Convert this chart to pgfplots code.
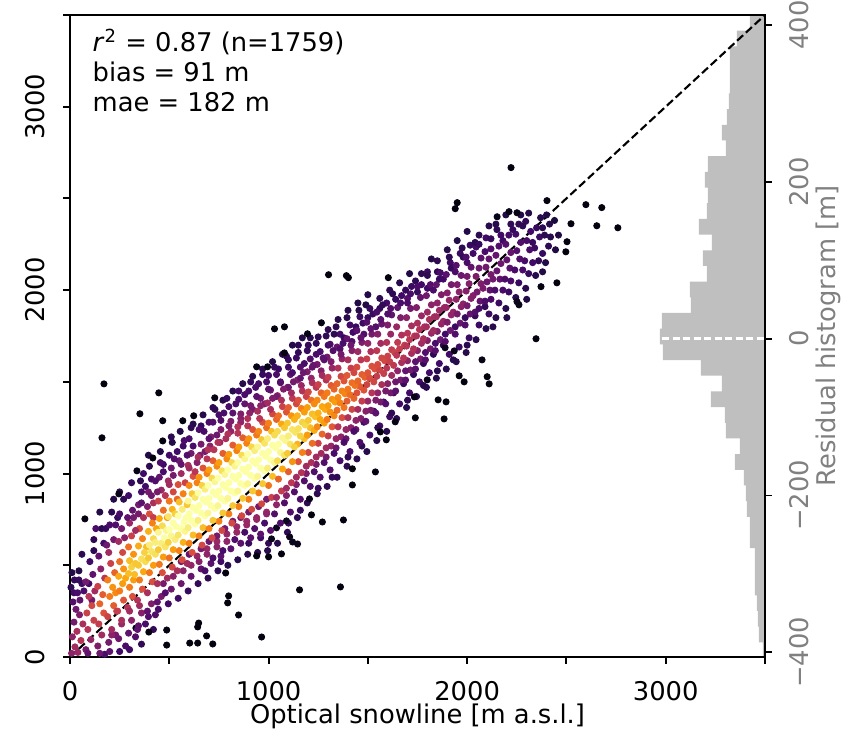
\documentclass[border=0pt]{standalone}
\usepackage{fontspec}
\setmainfont{DejaVu Sans}
\usepackage{pgfplots}
\usepackage{pgfplotstable}
\pgfplotsset{compat=1.18}

\definecolor{histgray}{RGB}{191,191,191}
\pgfplotsset{colormap={inferno}{rgb255=(0,0,4) rgb255=(22,11,57) rgb255=(66,10,104)
  rgb255=(106,23,110) rgb255=(147,38,103) rgb255=(188,55,84) rgb255=(221,81,58)
  rgb255=(243,120,25) rgb255=(252,165,10) rgb255=(246,215,70) rgb255=(252,255,164)}}

% optical vs SAR snowline, c = point density (0..1)
\pgfplotstableread{
x y c
8 20 .35
25 55 .4
12 110 .35
40 25 .38
35 140 .42
55 90 .45
20 190 .3
48 230 .32
15 300 .22
38 350 .2
60 400 .18
22 420 .15
10 460 .12
50 310 .25
65 180 .42
30 260 .28
5 380 .14
45 470 .12
70 360 .2
95 400 .18
45 420 .16
110 310 .3
20 350 .18
80 40 .3
105 95 .38
90 150 .45
120 200 .5
85 240 .5
110 280 .52
95 330 .45
125 360 .4
80 410 .3
115 450 .25
100 520 .18
120 580 .14
90 20 .25
140 60 .32
160 120 .4
145 180 .48
170 240 .55
150 290 .6
165 340 .58
140 385 .5
175 430 .45
155 480 .35
145 550 .25
170 620 .18
160 700 .13
175 15 .2
195 80 .3
210 150 .4
190 220 .5
220 280 .58
200 330 .65
215 380 .7
190 420 .66
225 460 .6
205 510 .5
195 570 .4
220 640 .3
200 720 .2
210 790 .14
230 350 .68
235 250 .52
245 100 .28
260 180 .38
240 250 .48
270 310 .56
250 360 .65
265 400 .72
245 440 .75
270 480 .7
250 520 .62
265 570 .52
245 630 .4
260 700 .3
250 780 .2
270 860 .14
280 430 .74
295 130 .25
310 200 .35
290 270 .45
315 330 .55
300 380 .65
320 420 .72
295 455 .78
310 490 .82
300 525 .78
320 560 .7
295 600 .62
310 660 .5
300 730 .38
315 800 .26
295 880 .18
330 510 .8
325 450 .78
345 170 .24
360 240 .34
340 310 .44
365 370 .55
350 420 .65
370 465 .74
345 500 .8
360 535 .85
375 570 .82
345 605 .75
365 645 .66
350 700 .55
370 760 .42
345 830 .3
360 900 .2
355 960 .14
380 520 .84
385 600 .78
395 220 .22
410 290 .32
390 350 .42
415 410 .54
400 460 .64
420 500 .72
395 540 .8
410 575 .86
400 610 .88
420 645 .84
395 685 .76
415 730 .66
400 780 .54
420 840 .42
395 900 .3
410 970 .2
400 1040 .14
430 560 .85
430 625 .88
435 700 .74
445 260 .2
460 330 .3
440 400 .42
465 460 .54
450 505 .64
470 545 .72
445 585 .8
460 620 .88
475 650 .92
445 680 .9
465 715 .84
450 755 .74
470 800 .62
445 850 .5
460 910 .38
450 980 .26
470 1050 .18
455 1120 .12
480 600 .86
485 690 .9
490 760 .72
495 290 .18
510 370 .28
490 430 .4
515 490 .52
500 540 .62
520 585 .72
495 625 .82
510 660 .9
500 695 .95
520 730 .92
495 765 .86
515 805 .76
500 850 .64
520 900 .52
495 960 .4
510 1030 .28
500 1100 .18
515 1170 .12
530 640 .88
535 710 .95
530 780 .82
540 860 .6
545 320 .18
560 400 .28
540 470 .42
565 530 .55
550 580 .66
570 625 .76
545 665 .86
560 700 .93
575 735 .98
545 770 .95
565 805 .88
550 845 .78
570 890 .66
545 940 .54
560 1000 .4
550 1070 .28
570 1150 .18
555 1230 .12
580 685 .9
585 760 .96
590 830 .8
595 360 .16
610 440 .26
590 510 .4
615 570 .54
600 620 .66
620 665 .78
595 705 .88
610 745 .94
600 780 .99
620 815 .96
595 850 .9
615 890 .8
600 935 .68
620 985 .55
595 1045 .42
610 1110 .3
600 1190 .2
620 1270 .13
630 725 .92
635 800 .98
630 870 .86
640 950 .66
645 400 .15
660 480 .25
640 550 .38
665 610 .52
650 660 .66
670 705 .78
645 745 .88
660 785 .95
650 825 1
670 860 .97
645 895 .92
665 935 .82
650 980 .7
670 1030 .56
645 1090 .42
660 1160 .3
650 1240 .2
670 1320 .13
680 770 .92
685 845 1
680 915 .88
690 1000 .66
695 430 .14
710 510 .24
690 590 .38
715 650 .52
700 700 .66
720 745 .8
695 785 .9
710 825 .96
700 865 1
720 900 .98
695 935 .93
715 975 .84
700 1020 .72
720 1070 .58
695 1130 .44
710 1200 .32
700 1280 .2
720 1360 .14
730 810 .94
735 885 1
730 955 .9
740 1040 .68
745 470 .14
760 550 .24
740 630 .38
765 690 .52
750 740 .66
770 785 .8
745 825 .9
760 865 .97
750 905 1
770 940 .98
745 975 .94
765 1015 .85
750 1060 .72
770 1110 .58
745 1170 .44
760 1240 .32
750 1320 .2
770 1400 .13
780 850 .94
785 925 1
780 995 .9
790 1080 .68
795 500 .13
810 590 .24
790 670 .38
815 730 .52
800 780 .66
820 825 .8
795 865 .9
810 905 .97
800 950 1
820 985 .98
795 1020 .93
815 1060 .84
800 1105 .72
820 1155 .58
795 1215 .44
810 1285 .32
800 1365 .2
820 1450 .13
830 895 .95
835 970 1
830 1040 .9
840 1125 .66
845 530 .13
860 620 .24
840 710 .38
865 770 .52
850 820 .66
870 865 .8
845 905 .9
860 945 .96
850 990 1
870 1025 .98
845 1060 .93
865 1100 .84
850 1145 .72
870 1195 .58
845 1255 .44
860 1325 .32
850 1405 .2
870 1490 .13
880 935 .94
885 1010 1
880 1080 .9
890 1165 .66
895 560 .13
910 650 .24
890 740 .38
915 805 .52
900 860 .66
920 905 .8
895 945 .9
910 990 .96
900 1035 1
920 1070 .97
895 1105 .92
915 1145 .83
900 1190 .7
920 1240 .56
895 1300 .43
910 1370 .3
900 1450 .2
920 1530 .13
930 975 .94
935 1055 .98
930 1125 .88
940 1210 .64
945 570 .13
960 670 .24
940 760 .38
965 835 .52
950 895 .66
970 945 .8
945 985 .9
960 1030 .96
950 1075 .99
970 1110 .96
945 1145 .9
965 1185 .8
950 1230 .68
970 1280 .54
945 1340 .42
960 1410 .3
950 1490 .2
970 1570 .13
980 1015 .93
985 1095 .97
980 1165 .86
990 1250 .62
995 580 .13
1010 690 .24
990 790 .38
1015 870 .5
1000 935 .64
1020 985 .78
995 1030 .88
1010 1075 .94
1000 1120 .97
1020 1155 .94
995 1190 .88
1015 1230 .78
1000 1275 .66
1020 1325 .52
995 1385 .4
1010 1455 .28
1000 1535 .18
1020 1610 .12
1030 1060 .9
1035 1140 .95
1030 1210 .84
1040 1295 .6
1045 620 .13
1060 730 .22
1040 830 .36
1065 905 .48
1050 970 .6
1070 1025 .74
1045 1070 .84
1060 1115 .9
1050 1160 .93
1070 1195 .9
1045 1230 .84
1065 1270 .74
1050 1315 .62
1070 1365 .5
1045 1425 .38
1060 1495 .27
1050 1570 .17
1070 1650 .12
1080 1100 .86
1085 1180 .9
1080 1250 .8
1090 1335 .56
1095 680 .14
1110 790 .22
1090 880 .34
1115 950 .46
1100 1010 .58
1120 1065 .7
1095 1110 .8
1110 1160 .86
1100 1205 .88
1120 1240 .86
1095 1275 .8
1115 1315 .7
1100 1360 .58
1120 1410 .46
1095 1470 .35
1110 1540 .25
1100 1620 .16
1120 1700 .12
1130 1145 .82
1135 1225 .86
1130 1295 .76
1140 1380 .52
1145 760 .14
1160 860 .22
1140 940 .33
1165 1005 .44
1150 1065 .55
1170 1115 .66
1145 1160 .76
1160 1205 .82
1150 1245 .85
1170 1280 .82
1145 1315 .76
1165 1355 .66
1150 1400 .55
1170 1450 .44
1145 1510 .33
1160 1580 .23
1150 1660 .15
1170 1740 .12
1180 1190 .78
1185 1265 .83
1180 1335 .72
1190 1420 .5
1195 840 .14
1210 930 .22
1190 1000 .32
1215 1060 .42
1200 1115 .52
1220 1165 .62
1195 1210 .72
1210 1250 .78
1200 1290 .8
1220 1325 .78
1195 1360 .72
1215 1400 .62
1200 1445 .52
1220 1495 .42
1195 1555 .32
1210 1625 .22
1200 1700 .15
1230 1235 .75
1235 1310 .79
1230 1380 .68
1240 1470 .46
1245 890 .14
1260 980 .22
1240 1050 .31
1265 1110 .4
1250 1165 .5
1270 1215 .6
1245 1255 .68
1260 1295 .74
1250 1330 .76
1270 1365 .74
1245 1400 .68
1265 1440 .6
1250 1485 .5
1270 1535 .4
1245 1595 .3
1260 1665 .2
1250 1745 .14
1280 1275 .72
1285 1350 .75
1280 1420 .64
1290 1510 .44
1295 930 .14
1310 1020 .22
1290 1090 .3
1315 1150 .38
1300 1205 .48
1320 1255 .57
1295 1295 .65
1310 1335 .7
1300 1370 .72
1320 1405 .7
1295 1440 .65
1315 1480 .57
1300 1525 .48
1320 1575 .38
1295 1635 .29
1310 1705 .2
1300 1785 .14
1330 1315 .68
1335 1390 .72
1330 1460 .6
1345 980 .14
1360 1070 .2
1340 1140 .28
1365 1200 .36
1350 1255 .45
1370 1305 .54
1345 1345 .62
1360 1385 .66
1350 1415 .68
1370 1450 .66
1345 1490 .6
1365 1530 .52
1350 1575 .44
1370 1625 .36
1345 1690 .27
1360 1760 .19
1350 1840 .13
1380 1360 .64
1385 1435 .67
1380 1505 .56
1395 1040 .14
1410 1120 .2
1390 1190 .27
1415 1250 .35
1400 1305 .43
1420 1350 .51
1395 1395 .58
1410 1430 .62
1400 1460 .64
1420 1495 .62
1395 1535 .57
1415 1575 .49
1400 1620 .42
1420 1670 .34
1395 1735 .26
1410 1810 .18
1400 1890 .13
1430 1410 .6
1435 1480 .63
1430 1550 .52
1445 1080 .14
1460 1170 .2
1440 1240 .26
1465 1300 .33
1450 1350 .41
1470 1395 .48
1445 1440 .55
1460 1475 .58
1450 1505 .6
1470 1540 .58
1445 1580 .53
1465 1620 .46
1450 1665 .39
1470 1715 .32
1445 1780 .24
1460 1855 .17
1450 1930 .12
1480 1455 .56
1485 1525 .59
1495 1120 .13
1510 1210 .19
1490 1285 .25
1515 1345 .31
1500 1395 .38
1520 1440 .45
1495 1485 .51
1510 1520 .54
1500 1550 .56
1520 1585 .54
1495 1625 .49
1515 1665 .43
1500 1710 .36
1520 1760 .3
1495 1825 .23
1510 1900 .16
1500 1975 .12
1530 1500 .52
1535 1570 .55
1545 1180 .13
1560 1260 .18
1540 1330 .24
1565 1390 .3
1550 1440 .36
1570 1485 .42
1545 1530 .48
1560 1565 .51
1550 1595 .53
1570 1630 .51
1545 1670 .46
1565 1710 .4
1550 1760 .34
1570 1815 .27
1545 1880 .2
1560 1955 .14
1580 1545 .49
1585 1615 .52
1595 1230 .13
1610 1310 .18
1590 1380 .23
1615 1440 .29
1600 1490 .35
1620 1535 .4
1595 1575 .46
1610 1610 .49
1600 1640 .5
1620 1675 .48
1595 1715 .44
1615 1760 .38
1600 1810 .32
1620 1865 .26
1595 1930 .19
1610 2000 .14
1630 1590 .47
1635 1660 .5
1645 1300 .13
1660 1380 .18
1640 1450 .24
1665 1510 .3
1650 1560 .36
1670 1605 .42
1645 1645 .46
1660 1680 .48
1650 1715 .47
1670 1755 .43
1645 1800 .38
1665 1850 .32
1650 1905 .25
1670 1970 .18
1660 2040 .13
1680 1630 .45
1685 1700 .48
1695 1360 .13
1710 1440 .18
1690 1510 .24
1715 1565 .3
1700 1615 .36
1720 1655 .41
1695 1695 .45
1710 1730 .46
1700 1765 .45
1720 1805 .41
1695 1850 .35
1715 1900 .29
1700 1955 .23
1720 2020 .17
1710 2090 .12
1730 1680 .44
1735 1750 .46
1745 1420 .13
1760 1500 .18
1740 1570 .24
1765 1625 .3
1750 1670 .35
1770 1710 .4
1745 1750 .43
1760 1785 .44
1750 1820 .42
1770 1860 .38
1745 1905 .32
1765 1960 .26
1750 2020 .2
1770 2090 .14
1780 1735 .42
1785 1800 .43
1795 1470 .13
1810 1550 .18
1790 1620 .23
1815 1680 .29
1800 1725 .34
1820 1765 .38
1795 1800 .41
1810 1840 .42
1800 1880 .39
1820 1920 .35
1795 1970 .29
1815 2030 .23
1800 2100 .17
1820 2170 .12
1830 1780 .4
1835 1855 .41
1845 1520 .13
1860 1600 .18
1840 1670 .23
1865 1730 .28
1850 1775 .33
1870 1815 .37
1845 1855 .4
1860 1890 .39
1850 1930 .36
1870 1975 .32
1845 2030 .26
1865 2095 .2
1850 2160 .14
1880 1830 .38
1885 1905 .38
1895 1570 .13
1910 1650 .18
1890 1720 .23
1915 1780 .28
1900 1825 .32
1920 1865 .36
1895 1905 .38
1910 1945 .37
1900 1985 .34
1920 2030 .3
1895 2085 .24
1915 2150 .18
1900 2220 .13
1930 1880 .37
1945 1610 .13
1960 1690 .17
1940 1760 .22
1965 1820 .27
1950 1870 .31
1970 1910 .34
1945 1950 .36
1960 1990 .35
1950 2030 .32
1970 2080 .28
1945 2135 .23
1965 2200 .17
1950 2270 .12
1980 1925 .35
1995 1660 .13
2010 1740 .17
1990 1810 .22
2015 1870 .26
2000 1915 .3
2020 1955 .33
1995 1995 .34
2010 2035 .33
2000 2075 .3
2020 2125 .26
1995 2180 .21
2015 2245 .16
2000 2320 .12
2030 1970 .33
2045 1730 .13
2060 1810 .17
2040 1880 .22
2065 1940 .26
2050 1990 .3
2070 2035 .32
2045 2075 .31
2060 2120 .28
2070 2175 .24
2045 2235 .19
2060 2300 .14
2080 2010 .31
2095 1790 .13
2110 1870 .17
2090 1940 .21
2115 2000 .25
2100 2045 .28
2120 2085 .3
2095 2125 .29
2110 2170 .26
2120 2225 .22
2095 2285 .18
2110 2350 .13
2130 2060 .29
2145 1850 .13
2160 1930 .17
2140 2000 .21
2165 2060 .25
2150 2105 .27
2170 2145 .28
2145 2190 .26
2160 2240 .22
2170 2300 .18
2145 2360 .13
2195 1900 .13
2210 1990 .17
2190 2060 .21
2215 2120 .24
2200 2165 .26
2220 2205 .26
2195 2250 .23
2210 2300 .19
2220 2360 .15
2195 2410 .12
2245 1960 .13
2260 2040 .16
2240 2110 .2
2265 2170 .22
2250 2215 .23
2270 2260 .22
2245 2305 .19
2260 2360 .15
2270 2410 .12
2295 2010 .13
2310 2090 .16
2290 2160 .19
2315 2220 .2
2300 2270 .2
2320 2320 .18
2295 2375 .15
2310 2420 .12
2345 2080 .13
2360 2160 .15
2340 2230 .17
2365 2290 .17
2350 2340 .16
2370 2395 .13
2395 2150 .12
2410 2240 .14
2390 2300 .14
2415 2360 .13
2400 2410 .12
2445 2220 .11
2460 2300 .11
2440 2380 .1
320 760 .3
360 840 .24
410 880 .28
380 930 .18
430 960 .22
470 1010 .2
520 990 .3
560 1050 .26
540 1120 .18
590 1100 .22
620 1150 .2
640 1060 .34
680 1120 .3
700 1190 .24
660 1260 .16
740 1210 .28
760 1290 .22
730 1350 .14
800 1260 .32
820 1330 .24
790 1410 .16
860 1300 .34
880 1380 .26
850 1450 .18
920 1350 .3
940 1420 .24
910 1500 .16
980 1380 .32
1000 1460 .24
970 1540 .16
1040 1420 .3
1060 1500 .22
1030 1580 .16
1100 1470 .28
1120 1550 .2
1090 1640 .14
1160 1520 .26
1180 1600 .2
1150 1700 .14
1220 1580 .26
1240 1650 .2
1210 1740 .14
1280 1620 .24
1300 1700 .18
1330 1760 .14
1360 1680 .22
1380 1740 .16
1420 1720 .22
1440 1800 .16
1480 1760 .22
1500 1850 .16
1540 1800 .22
1560 1900 .15
1600 1870 .22
1640 1950 .16
1700 1930 .2
1750 1990 .16
1800 2010 .18
1860 2060 .16
1920 2120 .16
1980 2180 .15
2040 2260 .14
560 520 .3
600 560 .26
660 590 .3
700 630 .28
740 660 .3
780 700 .3
820 740 .3
860 760 .32
900 790 .3
950 820 .3
990 860 .3
720 540 .2
770 580 .2
830 640 .22
880 680 .2
930 700 .22
980 730 .2
1030 780 .22
1080 840 .22
1130 900 .22
1180 960 .22
1230 1010 .22
1280 1060 .22
1330 1110 .2
1380 1170 .2
1430 1230 .2
1480 1280 .18
1530 1340 .18
1580 1390 .18
1630 1440 .17
1680 1490 .16
1730 1540 .15
1780 1600 .15
1830 1650 .14
1880 1700 .14
60 560 .14
120 640 .14
180 700 .16
240 760 .16
150 790 .12
220 860 .12
280 60 .2
330 110 .22
380 180 .2
430 230 .22
250 30 .18
360 70 .15
420 150 .15
130 700 .2
185 610 .28
230 720 .22
275 650 .35
330 690 .4
290 760 .25
345 780 .3
390 820 .32
250 900 .14
310 950 .16
370 1000 .18
420 760 .48
440 900 .3
395 1100 .12
480 880 .45
500 940 .4
455 1060 .2
525 1080 .22
510 1200 .14
580 950 .5
600 1030 .4
575 1180 .2
630 1010 .45
655 1100 .32
610 1250 .14
690 1080 .45
705 1150 .35
675 1230 .2
725 1130 .45
755 1170 .38
720 1280 .22
785 1190 .42
810 1230 .36
775 1330 .2
845 1220 .45
860 1280 .36
835 1380 .2
895 1260 .45
905 1330 .35
880 1430 .2
955 1300 .45
960 1370 .35
935 1470 .2
1010 1350 .42
1020 1410 .32
990 1500 .2
1065 1400 .42
1075 1460 .32
1040 1540 .2
1115 1440 .4
1125 1500 .3
1100 1580 .18
1165 1480 .38
1175 1550 .28
1140 1630 .17
1215 1520 .36
1225 1590 .27
1195 1670 .16
1265 1560 .34
1275 1630 .24
1240 1710 .15
1315 1610 .32
1325 1670 .22
1290 1750 .15
1365 1650 .3
1375 1710 .2
1340 1800 .14
1415 1700 .28
1425 1770 .18
1395 1850 .13
1465 1740 .26
1475 1820 .17
1455 1890 .13
1515 1790 .25
1525 1870 .16
1490 1920 .12
1565 1840 .24
1575 1920 .15
1615 1900 .22
1625 1980 .14
1665 1930 .2
1690 2000 .15
1715 1980 .2
1740 2050 .14
1770 2030 .18
1800 2080 .14
1830 2000 .2
1850 2100 .15
1880 2060 .18
1910 2180 .14
1940 2100 .2
1975 2230 .14
2000 2150 .2
2030 2200 .18
2060 2250 .16
2090 2210 .2
2120 2280 .16
2150 2330 .14
2180 2270 .18
2230 2330 .16
2280 2350 .14
2330 2260 .16
2380 2340 .14
2420 2290 .13
2280 2110 .2
2330 2150 .18
2380 2200 .16
2180 2000 .2
2120 1950 .2
2060 1900 .2
2220 2050 .2
470 400 .3
520 440 .35
570 470 .35
610 500 .36
650 520 .34
690 560 .36
740 600 .36
790 630 .36
840 680 .38
890 720 .38
940 750 .38
990 780 .36
1040 870 .4
1090 920 .4
1140 980 .4
1190 1040 .4
1240 1090 .4
1290 1140 .4
1340 1190 .38
1390 1240 .38
1440 1290 .36
1490 1340 .34
1540 1400 .32
1590 1450 .3
1640 1500 .28
1690 1560 .26
1740 1610 .24
1790 1660 .22
1840 1710 .2
1890 1760 .18
1940 1800 .17
1990 1850 .16
2040 1860 .15
2090 1910 .15
680 470 .2
760 520 .18
900 620 .16
960 650 .18
1000 620 .15
1100 730 .16
1160 800 .16
1250 920 .16
1320 980 .15
1400 1090 .15
1470 1150 .14
1550 1250 .14
1620 1330 .14
1700 1400 .14
1780 1480 .13
1850 1560 .13
1930 1620 .13
2000 1700 .13
2130 1800 .13
2200 1850 .13
2300 1950 .12
2380 2100 .12
200 30 .25
230 120 .3
150 20 .28
300 40 .18
340 150 .25
390 250 .25
440 300 .25
480 350 .22
300 250 .4
350 280 .4
260 200 .42
210 120 .35
2221 2668 .02
1950 2477 .02
1940 2444 .02
2402 2488 .02
2598 2466 .02
2678 2450 .02
2653 2351 .02
2759 2340 .02
2523 2362 .02
2211 2428 .03
2251 2422 .03
2151 2400 .03
2503 2264 .02
2497 2209 .02
2452 2040 .02
2372 2019 .02
2251 1937 .04
2261 1920 .04
2347 1735 .02
2075 1620 .03
2101 1528 .02
2111 1489 .02
1960 1533 .02
1985 1500 .02
1889 1686 .04
1935 1669 .04
1799 1511 .03
1302 2084 .02
1392 2079 .02
1402 2068 .02
1603 2068 .02
1266 1822 .03
1196 1762 .03
1734 1418 .03
171 1489 .02
447 1440 .02
352 1326 .02
467 1288 .02
568 1288 .02
161 1195 .02
467 1178 .02
1030 1789 .02
1080 1800 .02
1080 1658 .03
940 1582 .03
995 1582 .03
729 1413 .03
623 1315 .03
417 1085 .02
337 1015 .03
246 889 .03
1422 1026 .02
1422 938 .02
1854 1402 .02
1894 1391 .02
1884 1298 .02
1739 1304 .02
1638 1282 .03
1593 1184 .02
1563 1227 .02
1538 1009 .02
1206 862 .04
1216 775 .02
1271 736 .02
1377 747 .02
1090 742 .05
1040 704 .05
1106 655 .04
1121 627 .04
1146 616 .04
1015 644 .04
1065 562 .02
1000 546 .02
940 551 .02
1156 366 .02
1362 382 .02
965 109 .02
75 753 .02
784 458 .02
799 333 .02
794 295 .02
849 229 .02
648 185 .02
643 164 .02
487 147 .02
487 65 .02
688 115 .02
719 71 .02
603 76 .02
643 76 .02
397 136 .02
332 158 .02
}\scatterdata

% residual histogram: bar length (px-like units) and bin centre [m]
\pgfplotstableread{
w y
15 402.7
28 382.7
35 362.7
35 342.7
35 322.7
36 302.7
38 282.7
43 262.7
39 242.7
57 222.7
60 202.7
57 182.7
58 162.7
66 142.7
53 122.7
62 102.7
58 82.7
75 62.7
74 42.7
103 22.7
105 2.7
102 -17.3
64 -37.3
43 -57.3
54 -77.3
40 -97.3
39 -117.3
25 -137.3
30 -157.3
21 -177.3
19 -197.3
18 -217.3
15 -237.3
15 -257.3
10 -277.3
10 -297.3
10 -317.3
8 -337.3
7 -357.3
6 -377.3
2 -397.3
}\histdata

\begin{document}
\fontsize{11pt}{13.2pt}\selectfont
\begin{tikzpicture}
\useasboundingbox (-1.05cm,-1.11cm) rectangle (11.61cm,9.855cm);

\begin{axis}[
    width=10.425cm, height=9.63cm, scale only axis,
    xmin=0, xmax=695, x dir=reverse,
    ymin=-406, ymax=412.7,
    hide x axis,
    ytick pos=right, yticklabel pos=right,
    ytick={-400,-200,0,200,400},
    yticklabels={−400,−200,0,200,400},
    yticklabel style={rotate=90, anchor=north, yshift=-0.12cm, text=gray},
    ylabel={Residual histogram [m]},
    every axis y label/.style={at={(axis description cs:1,0.5)}, xshift=0.945cm,
      rotate=90, anchor=center, text=gray},
    tick align=outside, major tick length=0.105cm,
    every tick/.style={black, line width=0.8pt},
    axis line style={line width=0.8pt},
]
\addplot[xbar, bar width=20, fill=histgray, draw=none] table[x=w, y=y] {\histdata};
\addplot[white, line width=1pt, dash pattern=on 3pt off 1.5pt] coordinates {(103,0) (0,0)};
\end{axis}

\begin{axis}[
    width=10.425cm, height=9.63cm, scale only axis,
    xmin=0, xmax=3500, ymin=0, ymax=3500,
    xtick={0,500,...,3500}, xticklabels={0,,1000,,2000,,3000,},
    ytick={0,500,...,3500}, yticklabels={0,,1000,,2000,,3000,},
    xtick pos=bottom, ytick pos=left,
    tick align=outside, major tick length=0.105cm,
    every tick/.style={black, line width=0.8pt},
    axis line style={line width=0.8pt},
    yticklabel style={rotate=90, anchor=south, yshift=0.135cm},
    xticklabel style={yshift=-0.12cm},
    xlabel={Optical snowline [m a.s.l.]},
    every axis x label/.style={at={(axis description cs:0.5,0)}, anchor=base, yshift=-1.005cm},
    point meta=explicit, point meta min=0, point meta max=0.92,
    colormap name=inferno,
]
\pgfplotsinvokeforeach{0:0.199,0.2:0.399,0.4:0.599,0.6:0.799,0.8:1}{
  \addplot[scatter, only marks, mark=*, mark size=1.3pt,
    scatter/use mapped color={draw=mapped color, fill=mapped color},
    restrict expr to domain={\thisrow{c}}{#1}]
    table[x=x, y=y, meta=c] {\scatterdata};
}
\addplot[black, line width=0.9pt, dash pattern=on 3.5pt off 1.6pt] coordinates {(0,0) (3500,3500)};
\node[anchor=west, inner sep=0pt] at (rel axis cs:0.032,0.958) {\textit{r}\textsuperscript{2} = 0.87 (n=1759)};
\node[anchor=west, inner sep=0pt] at (rel axis cs:0.032,0.911) {bias = 91 m};
\node[anchor=west, inner sep=0pt] at (rel axis cs:0.032,0.864) {mae = 182 m};
\end{axis}
\end{tikzpicture}
\end{document}
